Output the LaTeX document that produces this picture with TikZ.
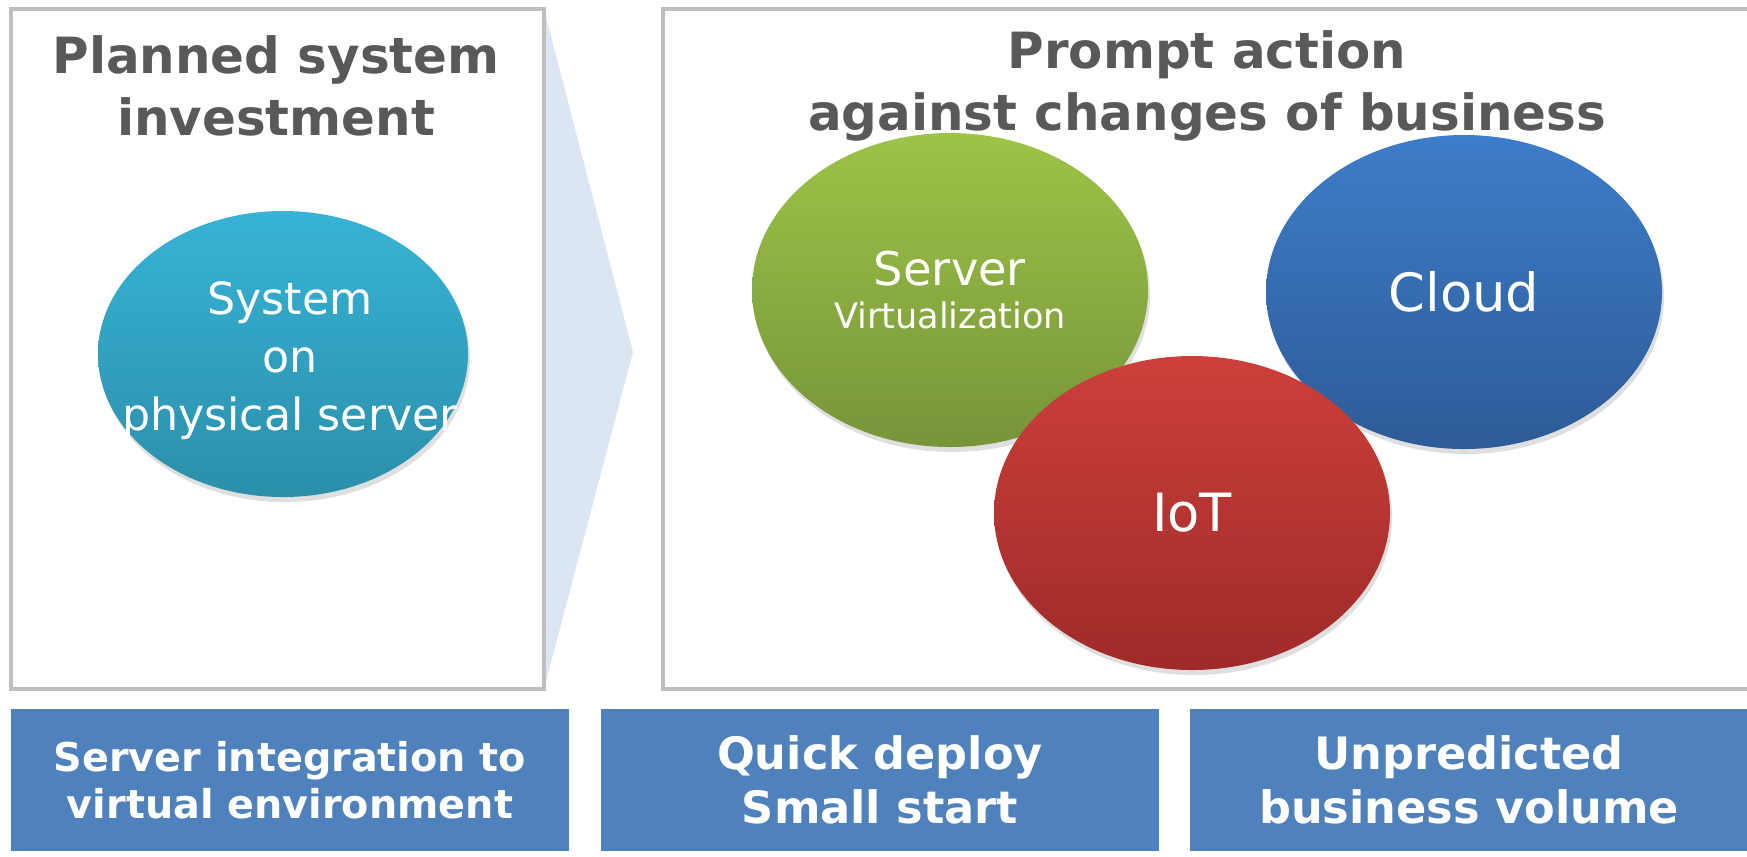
\documentclass[tikz,border=0pt]{standalone}
\usepackage{fontspec}
\setmainfont{DejaVu Sans}
\usetikzlibrary{shapes.geometric,shadows}
\definecolor{framegray}{HTML}{BFBFBF}
\definecolor{titlegray}{HTML}{595959}
\definecolor{chevronblue}{HTML}{DCE6F2}
\definecolor{labelblue}{HTML}{4F81BD}
\definecolor{cyantop}{HTML}{37B3D6}
\definecolor{cyanbot}{HTML}{2B8FA9}
\definecolor{greentop}{HTML}{9DC447}
\definecolor{greenbot}{HTML}{77943A}
\definecolor{bluetop}{HTML}{3E7DCA}
\definecolor{bluebot}{HTML}{2D5B97}
\definecolor{redtop}{HTML}{CD3F3B}
\definecolor{redbot}{HTML}{9E2B28}
\tikzset{
  frame/.style={draw=framegray, line width=1.2pt, fill=white},
  title/.style={text=titlegray, align=center,
    font=\bfseries\fontsize{14.2}{17.8}\selectfont},
  bubble/.style={ellipse, inner sep=0pt, text=white, align=center,
    minimum width=3.96cm, minimum height=3.14cm,
    drop shadow={shadow xshift=0.02cm, shadow yshift=-0.05cm, opacity=0.25}},
  labelbox/.style={rectangle, fill=labelblue, text=white, align=center,
    minimum width=5.58cm, minimum height=1.42cm, inner sep=0pt,
    font=\bfseries\fontsize{12.7}{15.2}\selectfont}
}
\begin{document}
\begin{tikzpicture}
  \useasboundingbox (0,0) rectangle (17.47,-8.56);
  \fill[chevronblue] (5.44,-0.09) -- (6.33,-3.52) -- (5.44,-6.89) -- cycle;
  \draw[frame] (0.11,-0.09) rectangle (5.44,-6.89);
  \draw[frame] (6.63,-0.09) rectangle (17.8,-6.89);
  \node[title] (planned) at (2.76,-0.86) {Planned system\\investment};
  \node[title] (prompt) at (12.07,-0.86) {Prompt action\\against changes of business};
  \node[bubble, top color=cyantop, bottom color=cyanbot,
    minimum width=3.70cm, minimum height=2.86cm] (physical) at (2.83,-3.54) {};
  \node[text=white, align=center, font=\fontsize{12.6}{16.5}\selectfont]
    (physicaltext) at ([xshift=0.07cm,yshift=-0.07cm]physical.center) {System\\on\\physical server};
  \node[bubble, top color=greentop, bottom color=greenbot] (virt) at (9.50,-2.90)
    {\fontsize{13.2}{15}\selectfont Server\\\fontsize{10}{15}\selectfont Virtualization};
  \node[bubble, top color=bluetop, bottom color=bluebot,
    font=\fontsize{15}{18}\selectfont] (cloud) at (14.64,-2.92) {Cloud};
  \node[bubble, top color=redtop, bottom color=redbot,
    font=\fontsize{15}{18}\selectfont] (iot) at (11.92,-5.13) {IoT};
  \node[labelbox, font=\bfseries\fontsize{11.3}{13.4}\selectfont] (integration)
    at (2.90,-7.80) {Server integration to\\virtual environment};
  \node[labelbox] (deploy) at (8.80,-7.80) {Quick deploy\\Small start};
  \node[labelbox] (volume) at (14.69,-7.80) {Unpredicted\\business volume};
\end{tikzpicture}
\end{document}
